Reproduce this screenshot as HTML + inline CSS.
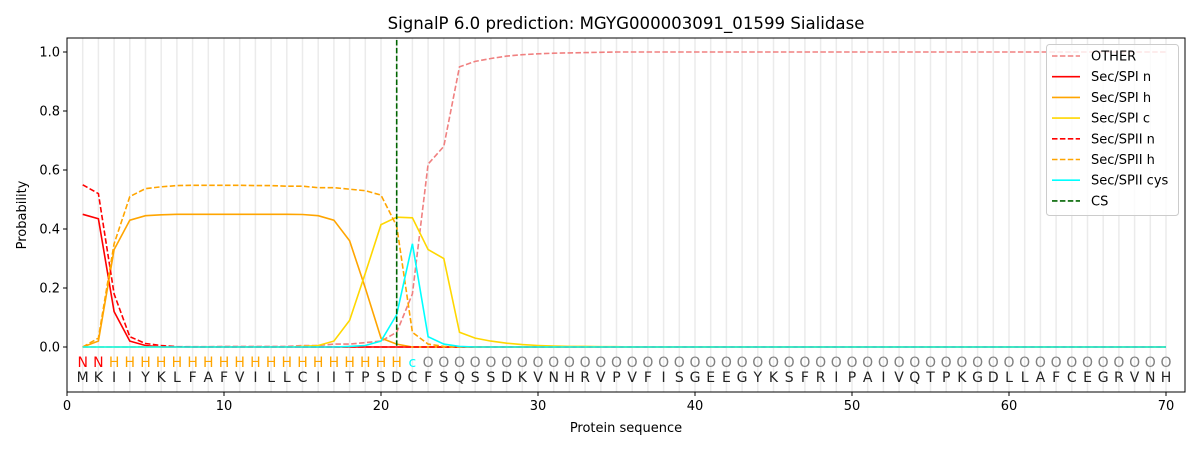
<!DOCTYPE html>
<html><head><meta charset="utf-8"><style>
body{margin:0;background:#fff;}
svg{display:block;font-family:"DejaVu Sans","Liberation Sans",sans-serif;}
</style></head><body>
<svg id="s" width="1200" height="450" xmlns="http://www.w3.org/2000/svg"></svg>
<script>
const s=document.getElementById('s');
const X=i=>67+15.7*i, Y=p=>347-295*p;
let h='';
h+='<rect x="67" y="38" width="1118" height="354" fill="#fff"/>';
for(let i=1;i<=70;i++)h+=`<line x1="${X(i)}" y1="38" x2="${X(i)}" y2="392" stroke="#ebebeb" stroke-width="1.5"/>`;
function mk(obj){const a=[];let keys=Object.keys(obj).map(Number).sort((a,b)=>a-b);for(let i=1;i<=70;i++){if(obj[i]!==undefined)a.push(obj[i]);else{let last=keys.filter(k=>k<i).pop();a.push(last===undefined?0:obj[last]);}}return a;}
const other=mk({1:0,5:0.001,10:0.002,15:0.005,17:0.01,19:0.015,20:0.02,21:0.05,22:0.18,23:0.62,24:0.68,25:0.95,26:0.968,27:0.978,28:0.986,29:0.991,30:0.994,31:0.996,32:0.997,33:0.998,34:0.999,35:1});
const spin=mk({1:0.45,2:0.435,3:0.12,4:0.02,5:0.005,6:0});
const spih=mk({1:0,2:0.02,3:0.33,4:0.43,5:0.445,6:0.448,7:0.45,15:0.449,16:0.445,17:0.43,18:0.36,19:0.2,20:0.03,21:0.01,22:0});
const spic=mk({1:0,15:0.002,16:0.005,17:0.02,18:0.09,19:0.25,20:0.415,21:0.44,22:0.438,23:0.33,24:0.3,25:0.05,26:0.03,27:0.02,28:0.013,29:0.008,30:0.005,31:0.003,32:0.002,34:0.001,36:0});
const s2n=mk({1:0.55,2:0.52,3:0.18,4:0.035,5:0.012,6:0.005,7:0.001,8:0});
const s2h=mk({1:0,2:0.03,3:0.35,4:0.51,5:0.537,6:0.543,7:0.547,8:0.548,12:0.547,14:0.545,16:0.54,18:0.535,19:0.53,20:0.515,21:0.41,22:0.05,23:0.01,24:0.002,25:0});
const cys=mk({1:0,18:0.002,19:0.005,20:0.02,21:0.11,22:0.35,23:0.035,24:0.01,25:0.002,26:0});
function pl(a,c,d){return `<polyline fill="none" stroke="${c}" stroke-width="1.6" ${d?'stroke-dasharray="5.5,2.4"':''} points="${a.map((v,i)=>X(i+1).toFixed(1)+','+Y(v).toFixed(1)).join(' ')}"/>`;}
h+=pl(other,'#f08080',1)+pl(spin,'#ff0000')+pl(spih,'#ffa500')+pl(spic,'#ffd700')+pl(s2n,'#ff0000',1)+pl(s2h,'#ffa500',1)+pl(cys,'#00ffff');
h+=`<line x1="${X(21)}" y1="40" x2="${X(21)}" y2="347" stroke="#006400" stroke-width="1.6" stroke-dasharray="5.5,2.4"/>`;
const seq="MKIIYKLFAFVILLCIITPSDCFSQSSDKVNHRVPVFISGEEGYKSFRIPAIVQTPKGDLLAFCEGRVNH";
for(let i=1;i<=70;i++){let l,c;if(i<=2){l='N';c='#ff0000'}else if(i<=21){l='H';c='#ffa500'}else if(i==22){l='c';c='#00ffff'}else{l='O';c='#808080'}
h+=`<text x="${X(i)}" y="367" font-size="14" fill="${c}" text-anchor="middle">${l}</text>`;
h+=`<text x="${X(i)}" y="382" font-size="14" fill="#222" text-anchor="middle">${seq[i-1]}</text>`;}
h+='<rect x="67" y="38" width="1118" height="354" fill="none" stroke="#000" stroke-width="1"/>';
for(let t=0;t<=70;t+=10){h+=`<line x1="${X(t)}" y1="392" x2="${X(t)}" y2="396" stroke="#000"/><text x="${X(t)}" y="410" font-size="13" text-anchor="middle">${t}</text>`;}
for(let k=0;k<=5;k++){let p=k*0.2;h+=`<line x1="63" y1="${Y(p)}" x2="67" y2="${Y(p)}" stroke="#000"/><text x="60" y="${Y(p)+4.5}" font-size="13" text-anchor="end">${p.toFixed(1)}</text>`;}
h+='<text x="626" y="432" font-size="13" text-anchor="middle">Protein sequence</text>';
h+='<text x="26" y="215" font-size="13" text-anchor="middle" transform="rotate(-90 26 215)">Probability</text>';
h+='<text x="626" y="29" font-size="16.6" text-anchor="middle">SignalP 6.0 prediction: MGYG000003091_01599 Sialidase</text>';
h+='<rect x="1046.5" y="44.5" width="132" height="171" rx="3" fill="#fff" fill-opacity="0.8" stroke="#ccc"/>';
const L=[['OTHER','#f08080',1],['Sec/SPI n','#ff0000',0],['Sec/SPI h','#ffa500',0],['Sec/SPI c','#ffd700',0],['Sec/SPII n','#ff0000',1],['Sec/SPII h','#ffa500',1],['Sec/SPII cys','#00ffff',0],['CS','#006400',1]];
L.forEach((e,i)=>{let y=56+i*20.7;h+=`<line x1="1052" y1="${y}" x2="1080" y2="${y}" stroke="${e[1]}" stroke-width="1.6" ${e[2]?'stroke-dasharray="5.5,2.4"':''}/><text x="1091" y="${y+4.5}" font-size="13">${e[0]}</text>`;});
s.innerHTML=h;
</script>
</body></html>
